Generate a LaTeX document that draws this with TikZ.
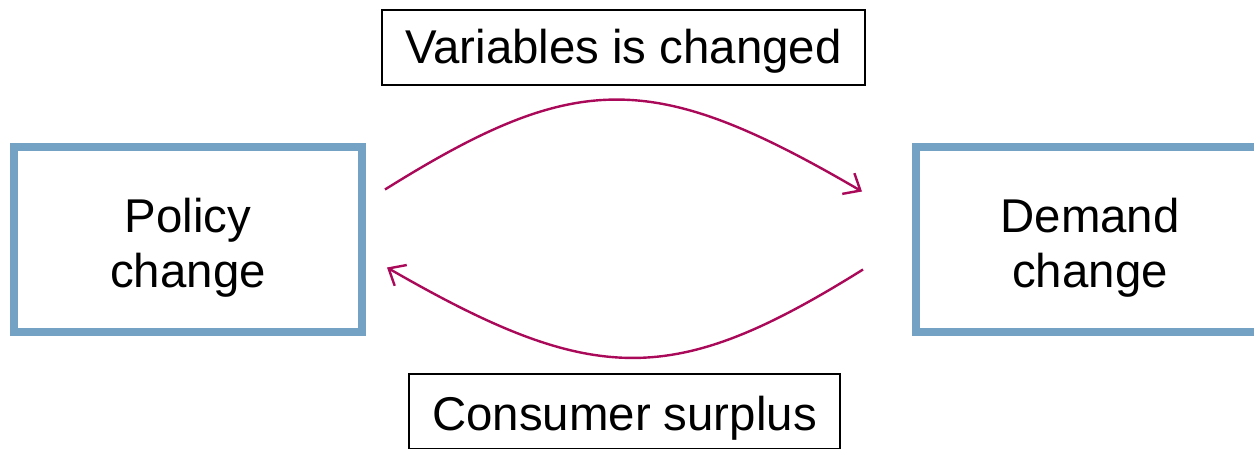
\documentclass[tikz,border=0pt]{standalone}
\usepackage{fontspec}
\setmainfont{Liberation Sans}
\usepackage{xcolor}
\usetikzlibrary{arrows.meta, positioning, calc}
\definecolor{boxblue}{RGB}{115,162,196}
\definecolor{linkred}{RGB}{170,8,88}
\tikzset{
  stage/.style={
    draw=boxblue,
    line width=4pt,
    minimum width=174pt,
    minimum height=92.5pt,
    align=center,
    font=\fontsize{23.7}{27.5}\selectfont
  },
  tag/.style={
    draw=black,
    line width=1pt,
    minimum height=37.5pt,
    inner sep=0pt,
    text depth=5pt,
    font=\fontsize{23.7}{27.5}\selectfont
  },
  link/.style={-{Straight Barb[length=7pt,width=12pt]}, line width=1.2pt, draw=linkred}
}
\begin{document}
\begin{tikzpicture}[x=0.5pt, y=-0.5pt]
  \useasboundingbox (0,0) rectangle (1254,449);

  % the two stages (the right one runs past the page edge)
  \node[stage] (policy) at (188,239.5) {\rule{0pt}{25.4pt}Policy\\change};
  \node[stage] (demand) at (1090,239.5) {\rule{0pt}{25.4pt}Demand\\change};

  \node[tag, minimum width=241.5pt, text height=21.5pt] (varbox) at (623.5,47.5) {Variables is changed};
  \node[tag, minimum width=215.5pt, text height=23.5pt] (surplus) at (624.5,411.5) {Consumer surplus};

  \coordinate (topstart) at ($(policy.east)+(19,-50)$);
  \coordinate (topend) at ($(demand.west)+(-50,-48)$);
  \coordinate (botstart) at ($(demand.west)+(-49,30)$);
  \coordinate (botend) at ($(policy.east)+(21,28)$);

  \draw[link] (topstart) .. controls +(192,-120) and +(-209,-122) .. (topend);
  \draw[link] (botstart) .. controls +(-189,118) and +(208,120) .. (botend);
\end{tikzpicture}
\end{document}
